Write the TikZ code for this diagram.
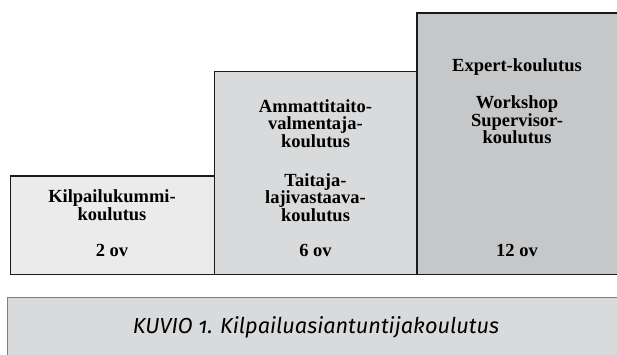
\documentclass[tikz,border=0pt]{standalone}
\usepackage{fontspec}
\setmainfont{Liberation Serif}
\newfontfamily\kuviofont{Fira Sans}[Numbers=OldStyle]

\definecolor{kummifill}{HTML}{EBEBEB}
\definecolor{ammattifill}{HTML}{D9DADC}
\definecolor{expertfill}{HTML}{C6C7C9}
\definecolor{boxline}{HTML}{1A1A1A}
\definecolor{kuvioline}{HTML}{7F7F7F}

\tikzset{
  box/.style={anchor=north west, inner sep=0pt, line width=1.3pt},
  boxtext/.style={anchor=base, align=center, inner sep=0pt,
    font=\bfseries\fontsize{18.5}{17.5}\selectfont},
}

\begin{document}
\begin{tikzpicture}[x=1pt,y=-1pt]
    \useasboundingbox (0,0) rectangle (617,355);
    % steps
    \node[box, draw=boxline, fill=kummifill, minimum width=204pt, minimum height=98pt] (kummi) at (10,175.5) {};
    \node[box, draw=boxline, fill=ammattifill, minimum width=203pt, minimum height=202.8pt] (ammatti) at (214,70.7) {};
    \node[box, fill=expertfill, minimum width=202pt, minimum height=260.5pt] (expert) at (417,13) {};
    \draw[boxline, line width=1.3pt] (expert.south east)--(expert.south west)--(expert.north west)--(expert.north east);
    % texts (base = last line)
    \node[boxtext] (kummitxt) at (112,220) {Kilpailukummi-\\koulutus};
    \node[boxtext] (kummiov) at (112,256) {2 ov};
    \node[boxtext] (ammattitxt) at (315.5,147.5) {Ammattitaito-\\valmentaja-\\koulutus};
    \node[boxtext] (taitajatxt) at (315.5,221) {Taitaja-\\lajivastaava-\\koulutus};
    \node[boxtext] (ammattiov) at (315.5,256) {6 ov};
    \node[boxtext] (experttxt) at (517,72) {Expert-koulutus};
    \node[boxtext] (workshoptxt) at (517,144) {Workshop\\Supervisor-\\koulutus};
    \node[boxtext] (expertov) at (517,256) {12 ov};
    % caption
    \node[box, fill=ammattifill, minimum width=612pt, minimum height=60pt] (kuvio) at (7.5,297.5) {};
    \draw[kuvioline, line width=1.3pt] (kuvio.south west)--(kuvio.north west)--(kuvio.north east);
    \node[anchor=base, inner sep=0pt, font=\kuviofont\itshape\fontsize{21.7}{24}\selectfont] (kuviotxt) at (316,333) {KUVIO 1. Kilpailuasiantuntijakoulutus};
\end{tikzpicture}
\end{document}
